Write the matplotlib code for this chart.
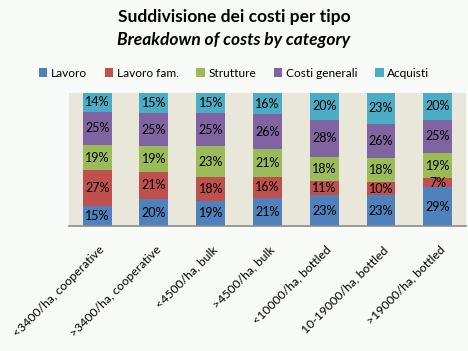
import numpy as np
import matplotlib.pyplot as plt

# categories and series (percent)
categories = ['<3400/ha, cooperative', '>3400/ha, cooperative', '<4500/ha, bulk',
              '>4500/ha, bulk', '<10000/ha, bottled', '10-19000/ha, bottled',
              '>19000/ha, bottled']
lavoro = [15, 20, 19, 21, 23, 23, 29]
lavoro_fam = [27, 21, 18, 16, 11, 10, 7]
strutture = [19, 19, 23, 21, 18, 18, 19]
costi_generali = [25, 25, 25, 26, 28, 26, 25]
acquisti = [14, 15, 15, 16, 20, 23, 20]

series = [('Lavoro', lavoro, '#4F81BD'),
          ('Lavoro fam.', lavoro_fam, '#C0504D'),
          ('Strutture', strutture, '#9BBB59'),
          ('Costi generali', costi_generali, '#8064A2'),
          ('Acquisti', acquisti, '#4BACC6')]

plt.rcParams['font.family'] = ['Lato', 'DejaVu Sans']

fig = plt.figure(figsize=(4.68, 3.51), dpi=100)
fig.patch.set_facecolor('#F7FAF7')
ax = fig.add_axes([0.147, 0.356, 0.849, 0.379])
ax.set_facecolor('#E8E7DA')

x = np.arange(len(categories))
bottom = np.zeros(len(categories))
for name, vals, col in series:
    vals = np.array(vals, dtype=float)
    ax.bar(x, vals, 0.51, bottom=bottom, color=col, label=name)
    for xi, b, v in zip(x, bottom, vals):
        ax.text(xi, b + v / 2, '%d%%' % v, ha='center', va='center',
                fontsize=9, color='black')
    bottom += vals

ax.set_xlim(-0.5, len(categories) - 0.5)
ax.set_ylim(0, 100)
ax.set_yticks([])
ax.set_xticks(x + 0.02)
ax.set_xticklabels(categories, rotation=45, ha='right', va='top',
                   rotation_mode='anchor', fontsize=8.8)
ax.tick_params(axis='x', length=0, pad=13)
for s in ['top', 'left', 'right']:
    ax.spines[s].set_visible(False)
ax.spines['bottom'].set_color('#8C8C8C')
ax.spines['bottom'].set_linewidth(1.2)

fig.text(0.5, 0.952, 'Suddivisione dei costi per tipo', ha='center', va='center',
         fontsize=12.5, fontweight='bold')
fig.text(0.5, 0.886, 'Breakdown of costs by category', ha='center', va='center',
         fontsize=12.5, fontweight='bold', fontstyle='italic')

fig.legend(loc='center', bbox_to_anchor=(0.5, 0.792), ncol=5, frameon=False,
           fontsize=8.6, handlelength=0.7, handleheight=0.7, handletextpad=0.3,
           columnspacing=1.5)

fig.savefig('out.png', dpi=100, facecolor=fig.get_facecolor())
